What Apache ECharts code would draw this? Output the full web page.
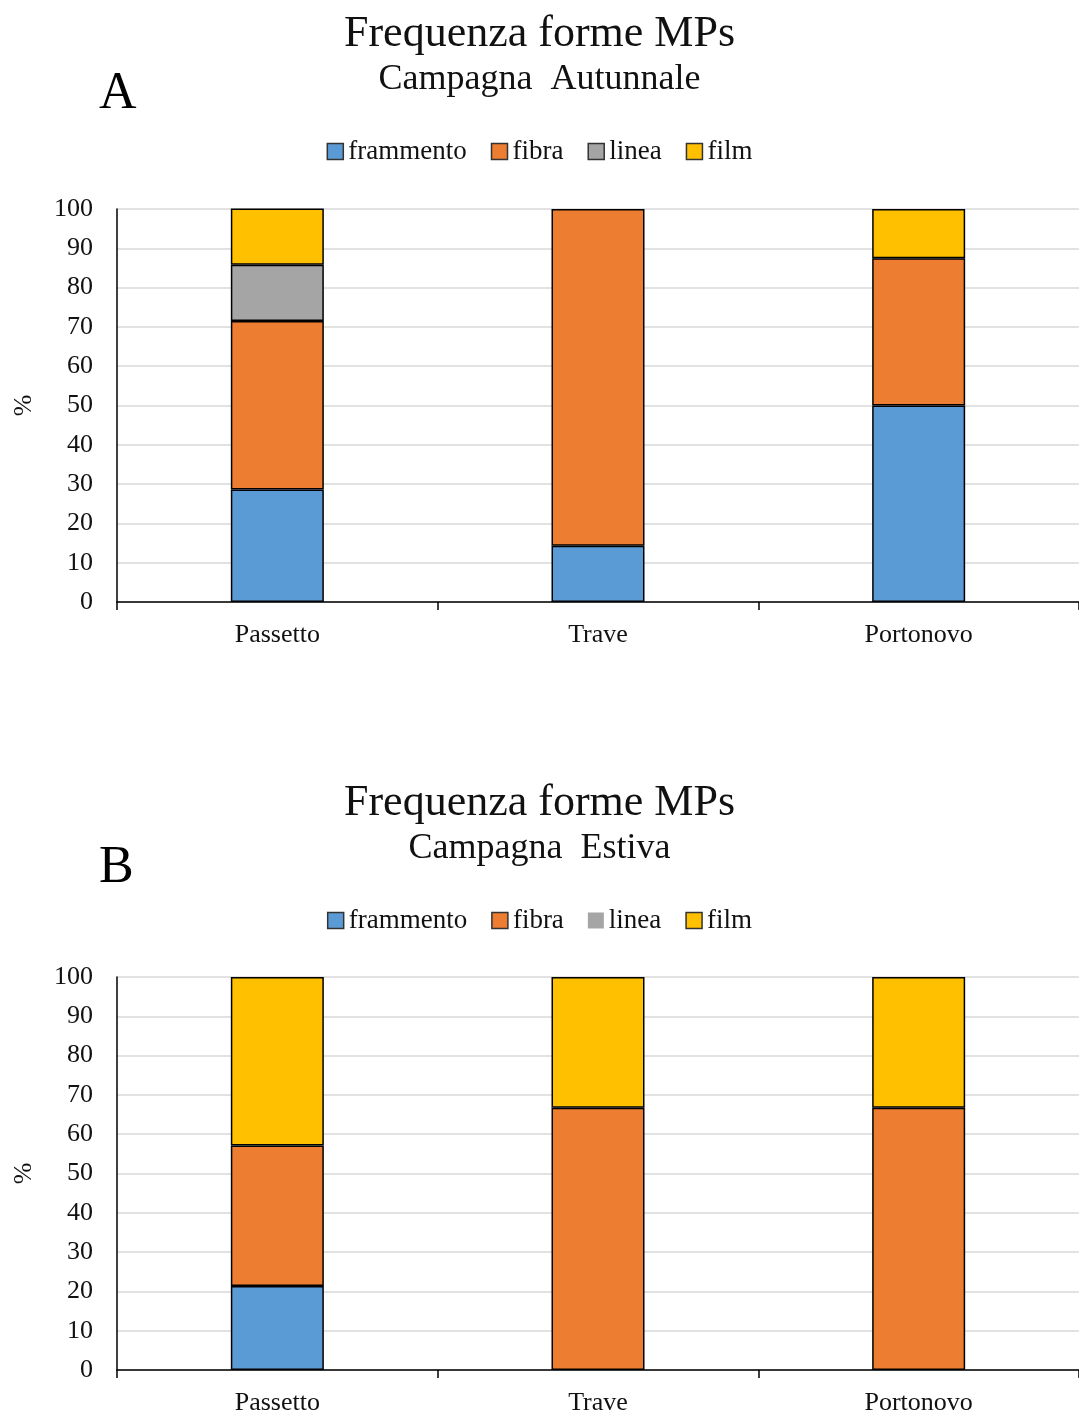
<!DOCTYPE html>
<html>
<head>
    <meta charset="utf-8">
    <title>Frequenza forme MPs</title>
    <script src="https://cdn.jsdelivr.net/npm/echarts@6/dist/echarts.min.js"></script>
</head>
<body style="margin:0;background:#fff;">
    <div id="chart" style="width:1079px;height:1417px;"></div>
    <script type="text/javascript">
        var chart = echarts.init(document.getElementById('chart'));

        // data (percent per site)
        var sites = ['Passetto', 'Trave', 'Portonovo'];
        var shapes = ['frammento', 'fibra', 'linea', 'film'];
        var colors = ['#5b9bd5', '#ed7d31', '#a5a5a5', '#ffc000'];

        // A - Campagna Autunnale
        var autFrammento = [28.6, 14.3, 50.0];
        var autFibra     = [42.9, 85.7, 37.5];
        var autLinea     = [14.3, 0, 0];
        var autFilm      = [14.3, 0, 12.5];

        // B - Campagna Estiva
        var estFrammento = [21.4, 0, 0];
        var estFibra     = [35.7, 66.7, 66.7];
        var estLinea     = [0, 0, 0];
        var estFilm      = [42.9, 33.3, 33.3];

        var autData = [autFrammento, autFibra, autLinea, autFilm];
        var estData = [estFrammento, estFibra, estLinea, estFilm];

        var font = '"Liberation Serif", "Times New Roman", serif';

        function xAxis(gi) {
            return {
                type: 'category', gridIndex: gi, data: sites,
                axisLine: { lineStyle: { color: '#000', width: 1.5 } },
                axisTick: { show: true, length: 8, lineStyle: { color: '#000', width: 1.5 } },
                axisLabel: { color: '#111', fontFamily: font, fontSize: 26, margin: 20 }
            };
        }
        function yAxis(gi) {
            return {
                type: 'value', gridIndex: gi, min: 0, max: 100, interval: 10,
                name: '%', nameLocation: 'middle', nameGap: 80, nameRotate: 90,
                nameTextStyle: { color: '#111', fontFamily: font, fontSize: 26 },
                axisLine: { show: true, lineStyle: { color: '#000', width: 1.5 } },
                axisTick: { show: false },
                axisLabel: { color: '#111', fontFamily: font, fontSize: 26, margin: 24 },
                splitLine: { lineStyle: { color: '#d9d9d9', width: 1.5 } }
            };
        }

        var series = [];
        [autData, estData].forEach(function (set, gi) {
            set.forEach(function (vals, i) {
                series.push({
                    name: shapes[i], type: 'bar', stack: 'g' + gi,
                    xAxisIndex: gi, yAxisIndex: gi,
                    barWidth: 93,
                    itemStyle: { color: colors[i], borderColor: '#000', borderWidth: 1.5 },
                    data: vals.map(function (v) { return v === 0 ? null : v; })
                });
            });
        });

        function legend(top, noBorderLinea) {
            return {
                top: top, left: 'center', icon: 'rect',
                itemWidth: 16, itemHeight: 16, itemGap: 24,
                textStyle: { color: '#111', fontFamily: font, fontSize: 27 },
                data: shapes.map(function (s, i) {
                    var d = { name: s, itemStyle: { color: colors[i], borderColor: '#333', borderWidth: 1.5 } };
                    if (noBorderLinea && s === 'linea') d.itemStyle = { color: colors[i], borderWidth: 0 };
                    return d;
                })
            };
        }

        function titles(offset, sub, letter) {
            return [
                { text: 'Frequenza forme MPs', left: 'center', top: 7 + offset,
                  textStyle: { fontFamily: font, fontWeight: 'normal', fontSize: 44, color: '#111' } },
                { text: sub, left: 'center', top: 57 + offset,
                  textStyle: { fontFamily: font, fontWeight: 'normal', fontSize: 36, color: '#111' } },
                { text: letter, left: 94, top: 63 + offset + (letter === 'B' ? 5 : 0),
                  textStyle: { fontFamily: font, fontWeight: 'normal', fontSize: 52, color: '#000' } }
            ];
        }

        var option = {
            animation: false,
            backgroundColor: '#fff',
            title: titles(0, 'Campagna  Autunnale', 'A').concat(titles(769, 'Campagna  Estiva', 'B')),
            legend: [legend(133, false), legend(902, true)],
            grid: [
                { left: 117, right: 0, top: 209, height: 393 },
                { left: 117, right: 0, top: 977, height: 393 }
            ],
            xAxis: [xAxis(0), xAxis(1)],
            yAxis: [yAxis(0), yAxis(1)],
            series: series
        };
        chart.setOption(option);
    </script>
</body>
</html>
